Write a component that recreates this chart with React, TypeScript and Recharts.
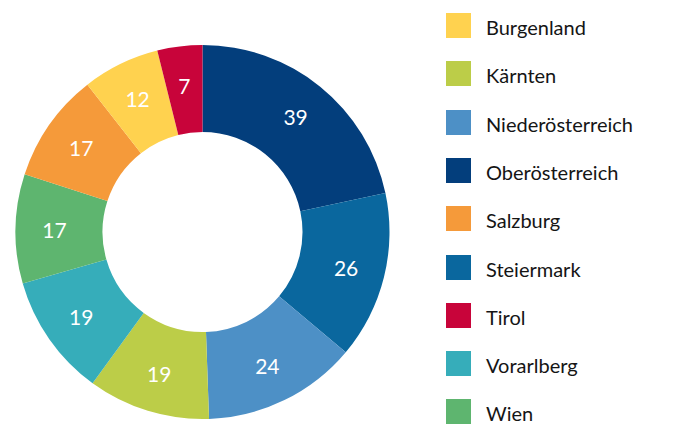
import { Cell, Pie, PieChart } from "recharts";

// pie order (clockwise from 12 o'clock)
const regions = [
  "Oberösterreich",
  "Steiermark",
  "Niederösterreich",
  "Kärnten",
  "Vorarlberg",
  "Wien",
  "Salzburg",
  "Burgenland",
  "Tirol",
];
const counts = [39, 26, 24, 19, 19, 17, 17, 12, 7];

const legendOrder = [
  "Burgenland",
  "Kärnten",
  "Niederösterreich",
  "Oberösterreich",
  "Salzburg",
  "Steiermark",
  "Tirol",
  "Vorarlberg",
  "Wien",
];

const colors: Record<string, string> = {
  Burgenland: "#FFD24F",
  Kärnten: "#BCCD48",
  Niederösterreich: "#4D90C6",
  Oberösterreich: "#033E7C",
  Salzburg: "#F59A3A",
  Steiermark: "#0A679E",
  Tirol: "#C8043A",
  Vorarlberg: "#36ADBA",
  Wien: "#5EB56F",
};

const data = regions.map((name, i) => ({ name, value: counts[i] }));

const FONT = "Lato, 'Noto Sans', sans-serif";
const RAD = Math.PI / 180;

function SliceLabel(props: any) {
  const { cx, cy, midAngle, value } = props;
  const r = 148;
  const x = cx + r * Math.cos(-midAngle * RAD);
  const y = cy + r * Math.sin(-midAngle * RAD);
  return (
    <text
      x={x}
      y={y}
      fill="#fff"
      fontSize={21}
      fontFamily={FONT}
      textAnchor="middle"
      dominantBaseline="central"
    >
      {value}
    </text>
  );
}

export default function App() {
  return (
    <div style={{ position: "absolute", left: 0, top: 0, width: 673, height: 428, background: "#fff" }}>
      <PieChart width={673} height={428} margin={{ top: 0, right: 0, bottom: 0, left: 0 }}>
        <Pie
          data={data}
          dataKey="value"
          nameKey="name"
          cx={202.5}
          cy={232}
          innerRadius={100}
          outerRadius={187}
          startAngle={90}
          endAngle={-270}
          stroke="none"
          label={SliceLabel}
          labelLine={false}
          isAnimationActive={false}
        >
          {data.map((d) => (
            <Cell key={d.name} fill={colors[d.name]} />
          ))}
        </Pie>
      </PieChart>
      <div style={{ position: "absolute", left: 446, top: 13 }}>
        {legendOrder.map((name, i) => (
          <div
            key={name}
            style={{ position: "absolute", top: i * 48.3, left: 0, display: "flex", alignItems: "center", whiteSpace: "nowrap" }}
          >
            <div style={{ width: 25, height: 25, background: colors[name] }} />
            <span style={{ marginLeft: 15, fontFamily: FONT, fontSize: 20, color: "#151515", lineHeight: "25px", position: "relative", top: 2 }}>
              {name}
            </span>
          </div>
        ))}
      </div>
    </div>
  );
}
